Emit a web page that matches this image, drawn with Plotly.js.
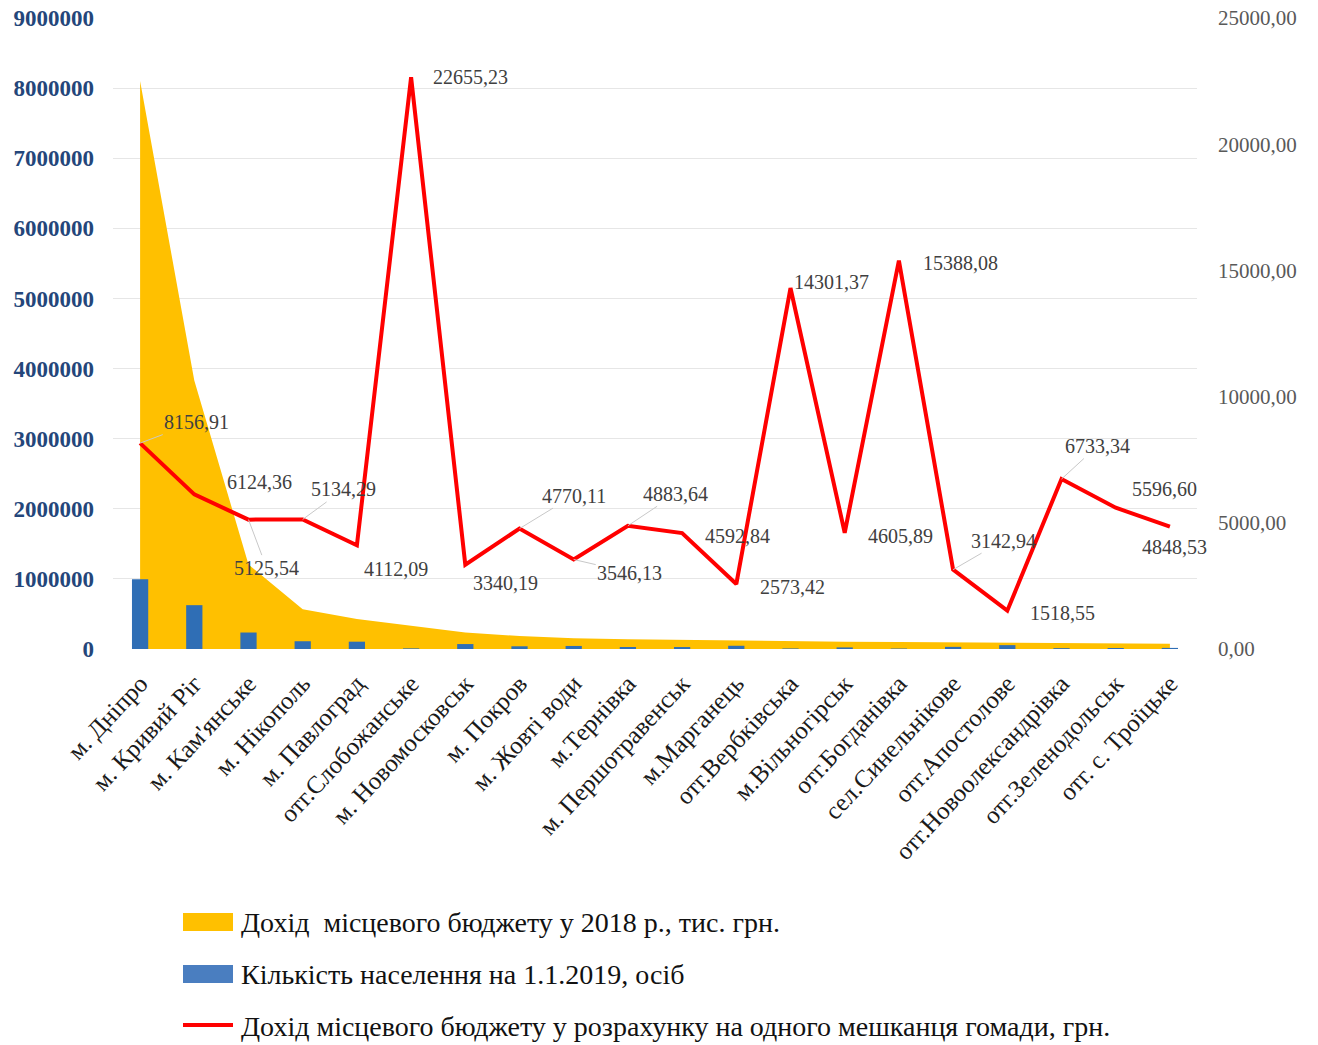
<!DOCTYPE html>
<html>
<head>
<meta charset="utf-8">
<script src="https://cdn.plot.ly/plotly-3.0.1.min.js"></script>
<style>html,body{margin:0;padding:0;background:#fff;}#chart{width:1318px;height:1045px;}</style>
</head>
<body>
<div id="chart"></div>
<script>
// ---- data ----
const categories = [
  "м. Дніпро", "м. Кривий Ріг", "м. Кам'янське", "м. Нікополь", "м. Павлоград",
  "отг.Слобожанське", "м. Новомосковськ", "м. Покров", "м. Жовті води", "м.Тернівка",
  "м. Першотравенськ", "м.Марганець", "отг.Вербківська", "м.Вільногірськ", "отг.Богданівка",
  "сел.Синельнікове", "отг.Апостолове", "отг.Новоолександрівка", "отг.Зеленодольськ", "отг. с. Троїцьке"
];
// Дохід місцевого бюджету у 2018 р., тис. грн.
const budget = [8100600, 3829000, 1204900, 568200, 429400, 333000, 235100, 184600, 153900, 139200,
                127700, 118400, 107300, 103600, 100000, 95900, 83500, 80800, 78400, 75200];
// Кількість населення на 1.1.2019, осіб
const population = [993094, 625206, 235066, 110669, 104433, 9000, 70400, 38700, 43400, 28500,
                    27800, 46000, 7500, 22500, 6500, 30500, 55000, 12000, 14000, 15500];
// Дохід місцевого бюджету у розрахунку на одного мешканця громади, грн.
const perCapita = [8156.91, 6124.36, 5125.54, 5134.29, 4112.09, 22655.23, 3340.19, 4770.11, 3546.13, 4883.64,
                   4592.84, 2573.42, 14301.37, 4605.89, 15388.08, 3142.94, 1518.55, 6733.34, 5596.60, 4848.53];
const leftTicks = [0, 1000000, 2000000, 3000000, 4000000, 5000000, 6000000, 7000000, 8000000, 9000000];
const rightTicks = [0, 5000, 10000, 15000, 20000, 25000];
const seriesNames = [
  "Дохід\u00A0 місцевого бюджету у 2018 р., тис. грн.",
  "Кількість населення на 1.1.2019, осіб",
  "Дохід місцевого бюджету у розрахунку на одного мешканця гомади, грн."
];

// ---- label placement (pixel offsets of data labels) ----
const labelOffsets = [
  [56,-21,1],[65,-12,0],[18,48,1],[41,-30,1],[39,24,0],[59,0,0],[40,18,0],[54,-33,1],[56,13,1],[48,-32,1],
  [55,3,0],[56,3,0],[41,-6,0],[56,3,0],[62,2,0],[50,-29,1],[55,2,0],[36,-33,1],[49,-19,0],[5,20,0]
];

const fmt = v => v.toFixed(2).replace('.', ',');

const serif = "'Liberation Serif', 'Times New Roman', serif";
const colors = {yellow:'#FFC000', bar:'#2F6EB5', legendBlue:'#4A7EC0', red:'#FF0000'};

const traces = [
  {type:'scatter', mode:'lines', x:categories, y:budget, fill:'tozeroy', fillcolor:colors.yellow,
   line:{width:0, color:colors.yellow}, yaxis:'y', name:seriesNames[0], hoverinfo:'y'},
  {type:'bar', x:categories, y:population, marker:{color:colors.bar}, yaxis:'y3', name:seriesNames[1], width:0.3},
  {type:'scatter', mode:'lines', x:categories, y:perCapita, line:{color:colors.red, width:4}, yaxis:'y2', name:seriesNames[2]}
];

// plot area geometry in pixels
const L = 113, R = 1197, T = 18, B = 649;
const px = x => (x - L) / (R - L);
const py = y => (B - y) / (B - T);

const annotations = perCapita.map((v, i) => ({
  x: categories[i], y: v, xref:'x', yref:'y2',
  text: fmt(v), showarrow:true, ax: labelOffsets[i][0], ay: labelOffsets[i][1],
  arrowhead:0, arrowwidth:1, standoff:0,
  arrowcolor: labelOffsets[i][2] ? '#C8C8C8' : 'rgba(0,0,0,0)',
  font:{family:serif, size:20, color:'#404040'}
}));

// legend (manual)
const legendRows = [922, 974, 1026];
legendRows.forEach((yc, k) => {
  annotations.push({xref:'paper', yref:'paper', x:px(239), y:py(yc), xanchor:'left', yanchor:'middle',
    text:seriesNames[k], showarrow:false, font:{family:serif, size:28, color:'#111'}});
});
const shapes = [
  {type:'rect', xref:'paper', yref:'paper', x0:px(183), x1:px(233), y0:py(931), y1:py(913), fillcolor:colors.yellow, line:{width:0}},
  {type:'rect', xref:'paper', yref:'paper', x0:px(183), x1:px(233), y0:py(983), y1:py(965), fillcolor:colors.legendBlue, line:{width:0}},
  {type:'line', xref:'paper', yref:'paper', x0:px(183), x1:px(233), y0:py(1025), y1:py(1025), line:{color:colors.red, width:4}}
];

const layout = {
  width:1318, height:1045,
  margin:{l:L, r:1318-R, t:T, b:1045-B, pad:0},
  paper_bgcolor:'#fff', plot_bgcolor:'#fff',
  showlegend:false,
  bargap:0.7,
  xaxis:{type:'category', range:[-0.5, 19.5], tickangle:-47, showgrid:false, zeroline:false, showline:false, ticks:'',
         tickfont:{family:serif, size:25, color:'#1a1a1a'}, ticklabelstandoff:14},
  yaxis:{range:[0, 9000000], tickvals:leftTicks, ticktext:leftTicks.map(String), showgrid:true, gridcolor:'#E6E6E6',
         zeroline:false, showline:false, ticks:'', ticklabelstandoff:18,
         tickfont:{family:serif, size:23, color:'#24467A', weight:'bold'}},
  yaxis2:{overlaying:'y', side:'right', range:[0, 25000], tickvals:rightTicks, ticktext:rightTicks.map(fmt),
          showgrid:false, zeroline:false, showline:false, ticks:'', ticklabelstandoff:20,
          tickfont:{family:serif, size:21, color:'#595959'}},
  yaxis3:{overlaying:'y', range:[0, 9000000], visible:false, showgrid:false},
  annotations:annotations,
  shapes:shapes
};

Plotly.newPlot('chart', traces, layout, {displayModeBar:false, staticPlot:true});
</script>
</body>
</html>
